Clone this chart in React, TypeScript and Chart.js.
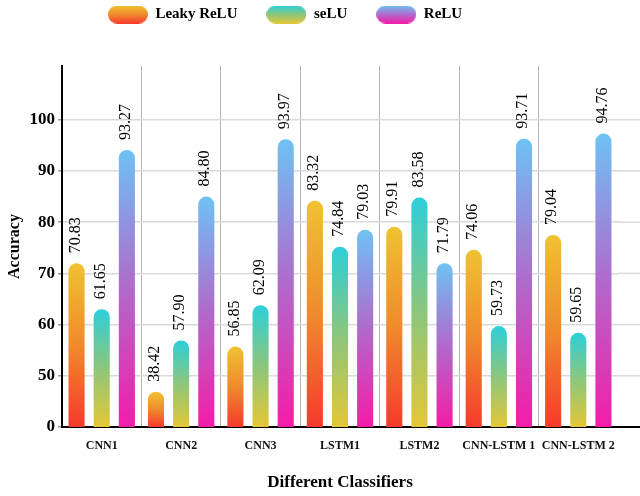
import React, { useEffect, useRef } from "react";
import { Chart, registerables } from "chart.js";

Chart.register(...registerables);

const categories = ["CNN1", "CNN2", "CNN3", "LSTM1", "LSTM2", "CNN-LSTM 1", "CNN-LSTM 2"];
const seriesNames = ["Leaky ReLU", "seLU", "ReLU"];

// printed accuracy labels above each bar
const leakyLabels = ["70.83", "38.42", "56.85", "83.32", "79.91", "74.06", "79.04"];
const seluLabels = ["61.65", "57.90", "62.09", "74.84", "83.58", "59.73", "59.65"];
const reluLabels = ["93.27", "84.80", "93.97", "79.03", "71.79", "93.71", "94.76"];

// bar heights as drawn on the (broken) accuracy axis
const leakyBars = [72.0, 46.9, 55.7, 84.2, 79.1, 74.6, 77.5];
const seluBars = [63.0, 56.9, 63.8, 75.2, 84.8, 59.7, 58.4];
const reluBars = [94.1, 85.0, 96.2, 78.5, 72.0, 96.3, 97.3];

// y axis: the lowest tick is shown as "0"
const yTickValues = [40, 50, 60, 70, 80, 90, 100];
const yTickLabels = ["0", "50", "60", "70", "80", "90", "100"];
const yMin = 40;
const yMax = 110.5;

const leakyStops = ["#efc231", "#f08a2c", "#f63a2c"];
const seluStops = ["#2ccfd9", "#8cc67c", "#e4c737"];
const reluStops = ["#6ec2f4", "#b06acb", "#f41ca8"];

const FONT = '"Liberation Serif", "Times New Roman", serif';

function barGradient(stops: string[]) {
  return (ctx: any) => {
    const chart = ctx.chart;
    if (!chart.chartArea || ctx.type !== "data") return stops[0];
    const y = chart.scales.y;
    const v = ctx.parsed ? ctx.parsed.y : ctx.raw;
    const top = y.getPixelForValue(v);
    const bottom = y.getPixelForValue(yMin);
    const g = chart.ctx.createLinearGradient(0, top, 0, bottom);
    stops.forEach((c, i) => g.addColorStop(i / (stops.length - 1), c));
    return g;
  };
}

function pill(stops: string[]) {
  const c = document.createElement("canvas");
  c.width = 40;
  c.height = 18;
  const x = c.getContext("2d")!;
  const g = x.createLinearGradient(0, 0, 0, 18);
  stops.forEach((s, i) => g.addColorStop(i / (stops.length - 1), s));
  x.fillStyle = g;
  x.beginPath();
  x.moveTo(9, 0);
  x.lineTo(31, 0);
  x.arc(31, 9, 9, -Math.PI / 2, Math.PI / 2);
  x.lineTo(9, 18);
  x.arc(9, 9, 9, Math.PI / 2, (3 * Math.PI) / 2);
  x.closePath();
  x.fill();
  return c;
}

export default function App() {
  const ref = useRef<HTMLCanvasElement>(null);

  useEffect(() => {
    document.body.style.margin = "0";
    const canvas = ref.current!;
    const allStops = [leakyStops, seluStops, reluStops];
    const allLabels = [leakyLabels, seluLabels, reluLabels];
    const pills = allStops.map(pill);

    const legendTweak = {
      id: "legendTweak",
      beforeInit(chart: any) {
        const leg = chart.legend;
        if (leg) {
          const orig = leg.fit.bind(leg);
          leg.fit = function () {
            orig();
            this.height = 66;
          };
        }
      },
      afterLayout(chart: any) {
        const leg = chart.legend;
        if (leg) {
          leg.top -= 22;
          leg.bottom -= 22;
          leg.left -= 24;
          leg.right -= 24;
        }
      },
    };

    const valueLabels = {
      id: "valueLabels",
      afterDatasetsDraw(chart: any) {
        const c = chart.ctx;
        chart.data.datasets.forEach((_: any, di: number) => {
          const meta = chart.getDatasetMeta(di);
          meta.data.forEach((el: any, i: number) => {
            c.save();
            c.translate(el.x - 1, el.y - 10);
            c.rotate(-Math.PI / 2);
            c.textAlign = "left";
            c.textBaseline = "middle";
            c.font = `16px ${FONT}`;
            c.fillStyle = "#000";
            c.fillText(allLabels[di][i], 0, 0);
            c.restore();
          });
        });
      },
    };

    const gridExtend = {
      id: "gridExtend",
      afterDraw(chart: any) {
        const c = chart.ctx;
        const { right, bottom } = chart.chartArea;
        const y = chart.scales.y;
        c.save();
        c.strokeStyle = "#dadada";
        c.lineWidth = 1.5;
        yTickValues.forEach((v) => {
          if (v === yMin) return;
          const py = y.getPixelForValue(v);
          c.beginPath();
          c.moveTo(right, py);
          c.lineTo(chart.width, py);
          c.stroke();
        });
        c.strokeStyle = "#000";
        c.lineWidth = 2;
        c.beginPath();
        c.moveTo(right - 1, bottom);
        c.lineTo(chart.width, bottom);
        c.stroke();
        c.restore();
      },
    };

    const chart = new Chart(canvas, {
      type: "bar",
      data: {
        labels: categories,
        datasets: [
          { label: seriesNames[0], data: leakyBars, backgroundColor: barGradient(leakyStops) as any },
          { label: seriesNames[1], data: seluBars, backgroundColor: barGradient(seluStops) as any },
          { label: seriesNames[2], data: reluBars, backgroundColor: barGradient(reluStops) as any },
        ],
      },
      options: {
        responsive: false,
        animation: false,
        layout: { padding: { top: 0, right: 22, bottom: 0, left: 0 } },
        datasets: {
          bar: {
            categoryPercentage: 0.95,
            barPercentage: 0.64,
            borderRadius: 20,
            borderSkipped: false,
          } as any,
        },
        plugins: {
          tooltip: { enabled: false },
          legend: {
            position: "top",
            align: "center",
            labels: {
              usePointStyle: true,
              pointStyleWidth: 40,
              padding: 29,
              color: "#000",
              font: { family: FONT, size: 15, weight: "bold" },
              generateLabels: (ch: any) =>
                ch.data.datasets.map((ds: any, i: number) => ({
                  text: ds.label,
                  pointStyle: pills[i],
                  fillStyle: "transparent",
                  strokeStyle: "transparent",
                  lineWidth: 0,
                  hidden: false,
                  datasetIndex: i,
                  fontColor: "#000",
                })),
            },
          },
        },
        scales: {
          x: {
            type: "category",
            grid: {
              offset: true,
              drawTicks: false,
              lineWidth: 1,
              color: (c: any) => (c.type === "tick" ? "#b4b4b4" : "rgba(0,0,0,0)"),
            },
            border: { color: "#000", width: 2 },
            ticks: {
              color: "#111",
              padding: 12,
              autoSkip: false,
              maxRotation: 0,
              font: { family: FONT, size: 12, weight: "bold" },
            },
            title: {
              display: true,
              text: "Different Classifiers",
              color: "#000",
              font: { family: FONT, size: 17, weight: "bold" },
              padding: { top: 0, bottom: 3 },
            },
            afterFit: (s: any) => {
              s.height = 69;
            },
          },
          y: {
            type: "linear",
            min: yMin,
            max: yMax,
            afterBuildTicks: (s: any) => {
              s.ticks = yTickValues.map((v) => ({ value: v }));
            },
            grid: {
              color: "#dadada",
              lineWidth: 1.5,
              tickLength: 4,
              tickColor: "#9a9a9a",
            },
            border: { color: "#000", width: 2 },
            ticks: {
              color: "#000",
              padding: 3,
              font: { family: FONT, size: 17, weight: "bold" },
              callback: (v: any) => {
                const k = yTickValues.indexOf(Number(v));
                return k >= 0 ? yTickLabels[k] : "";
              },
            },
            title: {
              display: true,
              text: "Accuracy",
              color: "#000",
              font: { family: FONT, size: 16, weight: "bold" },
              padding: { top: 5, bottom: 0 },
            },
            afterFit: (s: any) => {
              s.width = 62;
            },
          },
        },
      },
      plugins: [legendTweak, valueLabels, gridExtend],
    });

    return () => chart.destroy();
  }, []);

  return (
    <div style={{ width: 640, height: 496 }}>
      <canvas ref={ref} width={640} height={496} style={{ display: "block" }} />
    </div>
  );
}
